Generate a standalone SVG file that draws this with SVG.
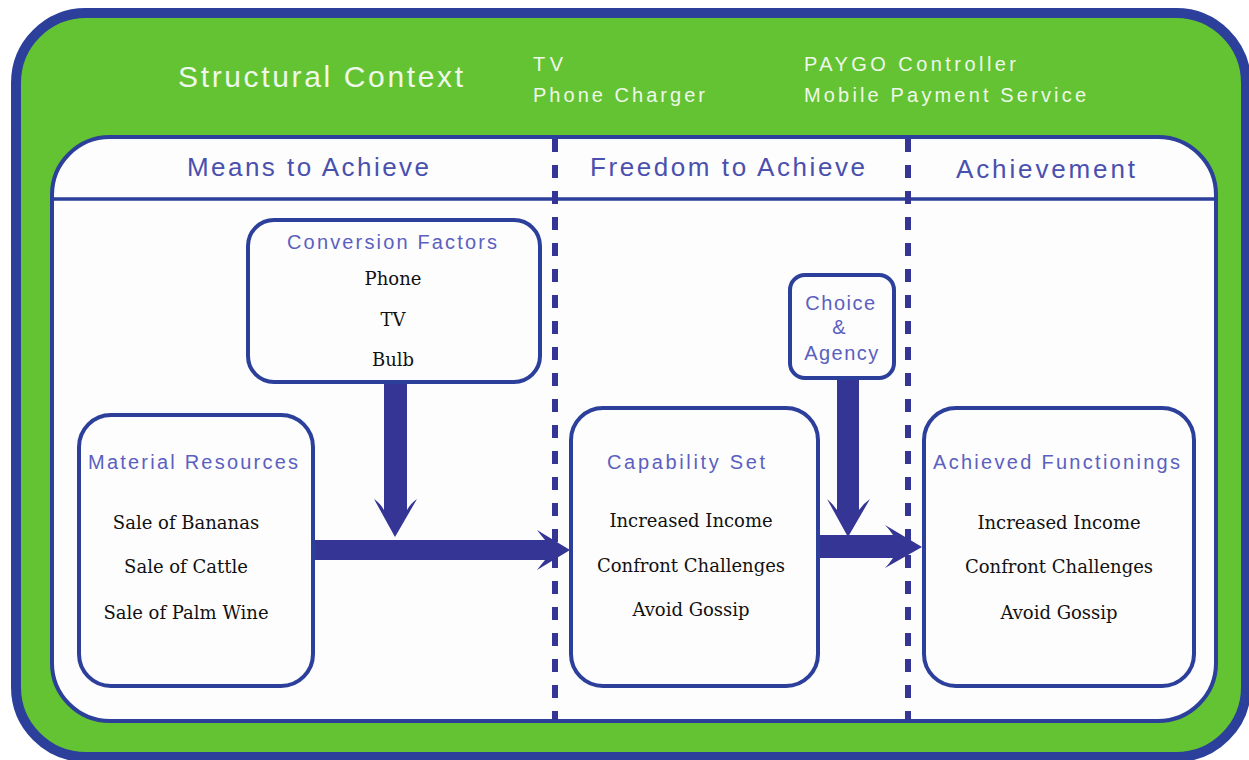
<svg xmlns="http://www.w3.org/2000/svg" width="1249" height="760" viewBox="0 0 1249 760">
<style>
.frame{fill:#64c332;stroke:#2b3f9b;stroke-width:10}
.panel{fill:#fdfdfd;stroke:#2b3f9b;stroke-width:4}
.box{fill:#fdfdfd;stroke:#2b3f9b;stroke-width:4}
.dash{stroke:#343595;stroke-width:6;stroke-dasharray:13 13;fill:none}
.arrow{fill:#343595}
.ctx{font-family:"Liberation Sans",Arial,sans-serif;fill:#eef8ea}
.hdr{font-family:"Liberation Sans",Arial,sans-serif;font-size:26px;fill:#4a50ae}
.ttl{font-family:"Liberation Sans",Arial,sans-serif;font-size:20px;fill:#5b60c0}
.item{font-family:"DejaVu Serif","Liberation Serif",serif;font-size:18px;fill:#111;text-anchor:middle}
</style>
<g id="structural-context">
<rect class="frame" x="16" y="13" width="1230" height="744" rx="70"/>
<text class="ctx" x="178" y="87" font-size="30" textLength="285" lengthAdjust="spacing">Structural Context</text>
<text class="ctx" x="533" y="71" font-size="20" textLength="30" lengthAdjust="spacing">TV</text>
<text class="ctx" x="533" y="102" font-size="20" textLength="172" lengthAdjust="spacing">Phone Charger</text>
<text class="ctx" x="804" y="71" font-size="20" textLength="212" lengthAdjust="spacing">PAYGO Controller</text>
<text class="ctx" x="804" y="102" font-size="20" textLength="282" lengthAdjust="spacing">Mobile Payment Service</text>
</g>
<g id="panel">
<rect class="panel" x="52" y="137" width="1164" height="584" rx="58"/>
<line x1="52" y1="199" x2="1216" y2="199" stroke="#2b3f9b" stroke-width="3.5"/>
<text class="hdr" x="187" y="176" textLength="242" lengthAdjust="spacing">Means to Achieve</text>
<text class="hdr" x="590" y="176" textLength="275" lengthAdjust="spacing">Freedom to Achieve</text>
<text class="hdr" x="956" y="178" textLength="179" lengthAdjust="spacing">Achievement</text>
</g>
<g id="dividers">
<line class="dash" x1="555" y1="139" x2="555" y2="720"/>
<line class="dash" x1="908" y1="139" x2="908" y2="720"/>
</g>
<g id="connectors">
<path class="arrow" d="M384,383 L384,510 Q380,503 374,499 L395,537 L417,499 Q411,503 407,510 L407,383 Z"/>
<path class="arrow" d="M312,540 L545,540 Q540,534 537,530 L570,550 L537,570 Q540,566 545,560 L312,560 Z"/>
<path class="arrow" d="M837,378 L837,510 Q832,503 827,499 L848,537 L870,499 Q864,503 859,510 L859,378 Z"/>
<path class="arrow" d="M818,535 L893,535 Q889,529 885,525 L922,547 L885,568 Q889,564 893,558 L818,558 Z"/>
</g>
<g id="conversion-factors">
<rect class="box" x="248" y="220" width="292" height="162" rx="26"/>
<text class="ttl" x="287" y="249" textLength="210" lengthAdjust="spacing">Conversion Factors</text>
<text class="item" x="393" y="285">Phone</text>
<text class="item" x="393" y="326">TV</text>
<text class="item" x="393" y="366">Bulb</text>
</g>
<g id="material-resources">
<rect class="box" x="79" y="415" width="234" height="271" rx="32"/>
<text class="ttl" x="88" y="469" textLength="210" lengthAdjust="spacing">Material Resources</text>
<text class="item" x="186" y="529">Sale of Bananas</text>
<text class="item" x="186" y="573">Sale of Cattle</text>
<text class="item" x="186" y="619">Sale of Palm Wine</text>
</g>
<g id="choice-agency">
<rect class="box" x="790" y="275" width="104" height="103" rx="15"/>
<text class="ttl" x="841" y="310" text-anchor="middle" letter-spacing="1.5">Choice</text>
<text class="ttl" x="839" y="334" text-anchor="middle">&amp;</text>
<text class="ttl" x="842" y="360" text-anchor="middle" letter-spacing="1.5">Agency</text>
</g>
<g id="capability-set">
<rect class="box" x="571" y="408" width="247" height="278" rx="32"/>
<text class="ttl" x="607" y="469" textLength="158" lengthAdjust="spacing">Capability Set</text>
<text class="item" x="691" y="527">Increased Income</text>
<text class="item" x="691" y="572">Confront Challenges</text>
<text class="item" x="691" y="616">Avoid Gossip</text>
</g>
<g id="achieved-functionings">
<rect class="box" x="924" y="408" width="270" height="278" rx="32"/>
<text class="ttl" x="933" y="469" textLength="247" lengthAdjust="spacing">Achieved Functionings</text>
<text class="item" x="1059" y="529">Increased Income</text>
<text class="item" x="1059" y="573">Confront Challenges</text>
<text class="item" x="1059" y="619">Avoid Gossip</text>
</g>
</svg>
